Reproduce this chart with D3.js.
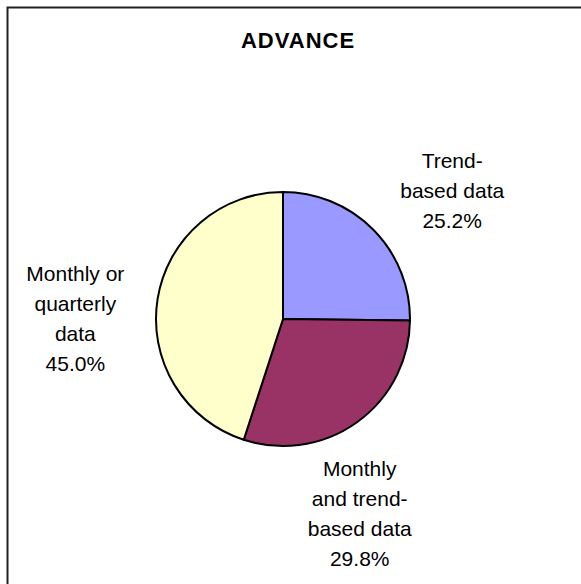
<!DOCTYPE html>
<html>
<head>
<meta charset="utf-8">
<script src="https://cdn.jsdelivr.net/npm/d3@7"></script>
<style>
  html, body { margin: 0; padding: 0; background: #fff; }
  svg { display: block; font-family: Arial, "Liberation Sans", sans-serif; }
</style>
</head>
<body>
<div id="chart"></div>
<script>
// data
const title = "ADVANCE";
const categories = ["Trend-based data", "Monthly and trend-based data", "Monthly or quarterly data"];
const labelLines = [
  ["Trend-", "based data"],
  ["Monthly", "and trend-", "based data"],
  ["Monthly or", "quarterly", "data"]
];
const values = [25.2, 29.8, 45.0];
const colors = ["#9999FF", "#993366", "#FFFFCC"];

// layout
const width = 581, height = 584;
const cx = 283, cy = 319, radius = 127;
const labelRadius = 190;
const lineHeight = 30;
// small nudges so the labels sit where the original put them
const nudges = [[34, 5], [-34, 41], [-20, 30]];

const svg = d3.select("#chart").append("svg")
  .attr("width", width)
  .attr("height", height);

// chart frame (only top and left are visible in the crop)
svg.append("rect")
  .attr("x", 7.5).attr("y", 7.5)
  .attr("width", 700).attr("height", 700)
  .attr("fill", "#fff")
  .attr("stroke", "#222")
  .attr("stroke-width", 2);

svg.append("text")
  .attr("x", 298)
  .attr("y", 48)
  .attr("text-anchor", "middle")
  .attr("font-size", 22)
  .attr("font-weight", "bold")
  .attr("letter-spacing", 1)
  .text(title);

const pie = d3.pie().sort(null).value(d => d);
const arcs = pie(values);

const arc = d3.arc().innerRadius(0).outerRadius(radius);
const labelArc = d3.arc().innerRadius(labelRadius).outerRadius(labelRadius);

const g = svg.append("g").attr("transform", `translate(${cx},${cy})`);

g.selectAll("path")
  .data(arcs)
  .join("path")
  .attr("d", arc)
  .attr("fill", (d, i) => colors[i])
  .attr("stroke", "#000")
  .attr("stroke-width", 2)
  .attr("stroke-linejoin", "round");

const labels = g.selectAll("text.lbl")
  .data(arcs)
  .join("text")
  .attr("class", "lbl")
  .attr("text-anchor", "middle")
  .attr("font-size", 21)
  .attr("fill", "#000");

labels.each(function(d, i) {
  const [x, y] = labelArc.centroid(d);
  const lx = x + nudges[i][0];
  const ly = y + nudges[i][1];
  const lines = labelLines[i].concat([d3.format(".1f")(values[i]) + "%"]);
  const first = ly - (lines.length - 1) * lineHeight / 2 + 7;
  d3.select(this).selectAll("tspan")
    .data(lines)
    .join("tspan")
    .attr("x", lx)
    .attr("y", (t, k) => first + k * lineHeight)
    .text(t => t);
});
</script>
</body>
</html>
